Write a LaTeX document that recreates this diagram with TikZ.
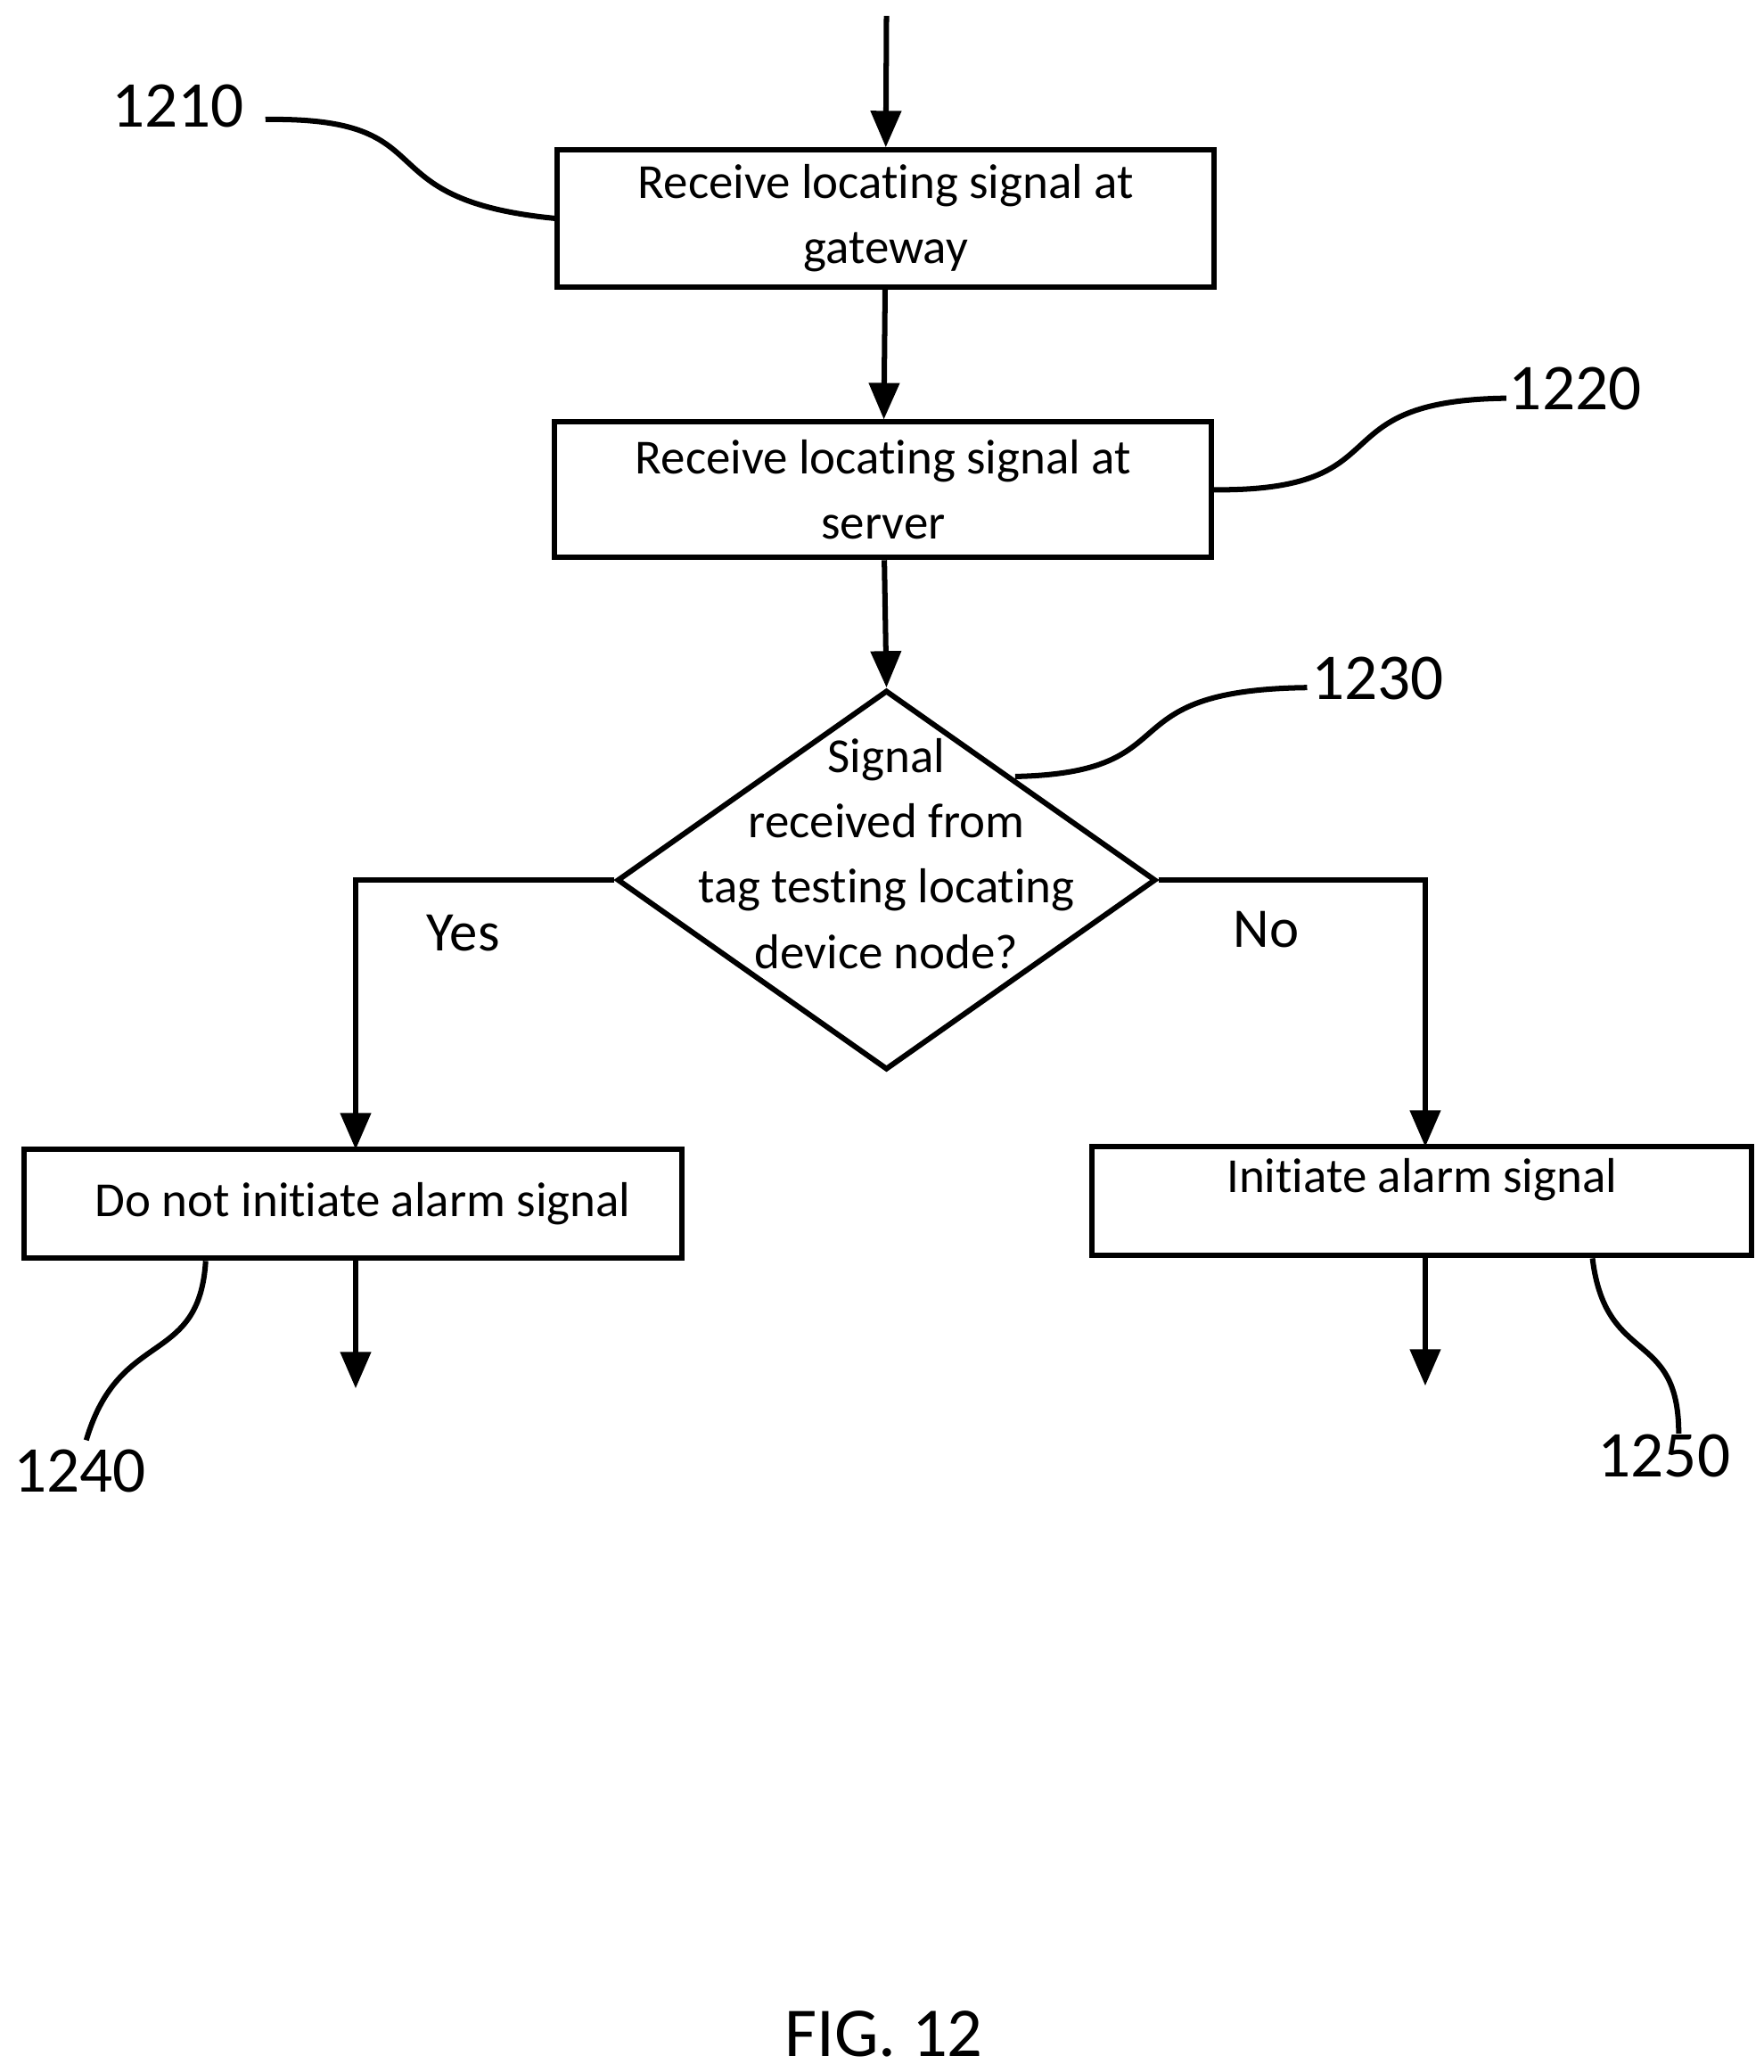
\documentclass[tikz,border=0pt]{standalone}
\usepackage{fontspec}
\setmainfont{Carlito}[Ligatures={NoCommon}]
\usetikzlibrary{arrows.meta,shapes.geometric}
\begin{document}
\begin{tikzpicture}[x=0.02cm,y=-0.02cm,
  lw/.style={line width=2.3pt},
  box/.style={draw,lw,rectangle,inner sep=0pt,align=center,font=\fontsize{21}{28}\selectfont},
  arr/.style={lw,-{Triangle[length=0.55cm,width=0.45cm]}},
  lead/.style={lw},
  num/.style={font=\fontsize{28}{30}\selectfont},
  txt/.style={font=\fontsize{21}{28}\selectfont,align=center}]
\useasboundingbox (0,0) rectangle (1329,1561);
\coordinate (top) at (668,12);
\node[box,minimum width=9.9cm,minimum height=2.06cm] (b1) at (667.5,164.5) {Receive locating signal at\\gateway};
\node[box,minimum width=9.9cm,minimum height=2.04cm] (b2) at (665.5,369) {Receive locating signal at\\server};
\node[draw,lw,diamond,minimum width=8.12cm,minimum height=5.72cm,aspect=1.42,inner sep=0pt] (d) at (668,663) {};
\node[txt] (dt) at (668,643) {Signal\\received from\\tag testing locating\\device node?};
\node[box,minimum width=9.92cm,minimum height=1.64cm] (b3) at (266,907) {\hspace*{0.3cm}Do not initiate alarm signal};
\node[box,minimum width=9.94cm,minimum height=1.64cm] (b4) at (1071.5,905) {Initiate alarm signal\\[-0.2cm]};
\coordinate (e3) at (268,1046);
\coordinate (e4) at (1074,1044);
\draw[arr] (top) -- (b1.north);
\draw[arr] (b1) -- (b2);
\draw[arr] (b2) -- (d.north);
\draw[arr] (d.west) -| (268,866);
\draw[arr] (d.east) -| (1074,864);
\draw[arr] (268,948) -- (e3);
\draw[arr] (1074,946) -- (e4);
\node[txt,font=\fontsize{24}{28}\selectfont] (yes) at (349,703) {Yes};
\node[txt,font=\fontsize{24}{28}\selectfont] (no) at (954,700) {No};
\node[num] (n1) at (134,80) {1210};
\node[num] (n2) at (1187,293) {1220};
\node[num] (n3) at (1038,511) {1230};
\node[num] (n4) at (60,1108) {1240};
\node[num] (n5) at (1254,1097) {1250};
\node[font=\fontsize{30}{32}\selectfont] (fig) at (666,1532) {FIG. 12};
\draw[lead] (200,90) .. controls (340,88) and (270,150) .. (b1.west);
\draw[lead] (b2.east) .. controls (1060,370) and (990,302) .. (1135,300);
\draw[lead] (765,585) .. controls (900,582) and (830,520) .. (985,518);
\draw[lead] (155,950) .. controls (150,1030) and (90,1000) .. (65,1085);
\draw[lead] (1200,948) .. controls (1210,1030) and (1265,1000) .. (1265,1080);
\end{tikzpicture}
\end{document}
